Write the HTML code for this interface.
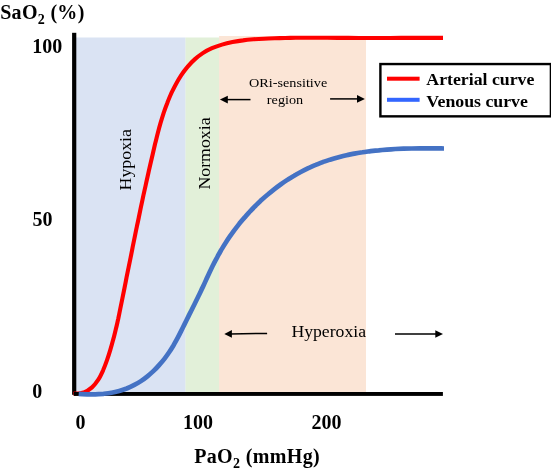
<!DOCTYPE html>
<html><head><meta charset="utf-8">
<style>
html,body{margin:0;padding:0;background:#fff;}
body{width:551px;height:474px;overflow:hidden;font-family:"Liberation Serif",serif;}
svg{display:block;}
text{font-family:"Liberation Serif",serif;fill:#000;}
.b{font-weight:bold;font-size:20px;}
.l{font-weight:bold;font-size:16.1px;}
.r{font-size:16px;}
.s{font-size:13px;}
</style></head><body>
<svg width="551" height="474" viewBox="0 0 551 474" style="will-change:transform">
<rect x="76" y="37.5" width="109.6" height="356" fill="#DAE3F3"/>
<rect x="185.5" y="37.5" width="34" height="356" fill="#E2F0D9"/>
<rect x="219.1" y="36" width="146.9" height="357" fill="#FBE5D6"/>
<rect x="72.1" y="32.8" width="4.2" height="362" fill="#000"/>
<path d="M73.4 393.8 C75.1 393.6 80.8 393.5 83.9 392.4 C87.0 391.4 89.6 389.5 92.0 387.4 C94.4 385.3 96.4 382.6 98.3 379.7 C100.1 376.9 101.6 373.6 103.1 370.3 C104.5 367.0 105.8 363.5 107.0 360.1 C108.2 356.7 109.3 353.3 110.3 349.9 C111.4 346.4 112.3 343.0 113.2 339.6 C114.2 336.2 115.0 332.7 115.8 329.3 C116.7 325.8 117.4 322.4 118.2 319.0 C118.9 315.5 119.6 312.1 120.3 308.6 C121.0 305.2 121.7 301.8 122.4 298.3 C123.1 294.9 123.8 291.5 124.5 288.0 C125.2 284.6 125.9 281.2 126.5 277.7 C127.2 274.3 127.9 270.9 128.6 267.4 C129.3 264.0 130.0 260.6 130.7 257.2 C131.4 253.7 132.1 250.3 132.7 246.9 C133.4 243.4 134.1 240.0 134.8 236.6 C135.5 233.2 136.2 229.7 136.9 226.3 C137.7 222.9 138.4 219.4 139.1 216.0 C139.8 212.6 140.5 209.2 141.2 205.7 C142.0 202.3 142.7 198.9 143.4 195.4 C144.2 192.0 144.9 188.6 145.7 185.1 C146.4 181.7 147.2 178.3 148.0 174.8 C148.7 171.4 149.5 167.9 150.3 164.5 C151.1 161.0 151.9 157.6 152.7 154.2 C153.5 150.7 154.3 147.2 155.1 143.8 C156.0 140.4 156.8 136.9 157.7 133.5 C158.6 130.0 159.5 126.6 160.5 123.2 C161.5 119.8 162.5 116.5 163.6 113.1 C164.7 109.8 165.9 106.5 167.2 103.2 C168.4 99.9 169.8 96.7 171.2 93.5 C172.7 90.4 174.2 87.2 175.9 84.2 C177.6 81.1 179.4 78.1 181.3 75.2 C183.2 72.3 185.3 69.5 187.5 66.9 C189.8 64.2 192.1 61.7 194.7 59.4 C197.2 57.1 199.9 55.0 202.8 53.1 C205.7 51.2 208.8 49.6 212.0 48.2 C215.2 46.8 218.6 45.6 222.0 44.6 C225.5 43.6 229.0 42.8 232.5 42.1 C236.0 41.4 239.5 40.8 243.0 40.4 C246.5 39.9 250.0 39.6 253.5 39.3 C257.0 39.1 260.5 38.9 264.0 38.7 C267.6 38.5 271.1 38.4 274.6 38.3 C278.1 38.2 281.6 38.1 285.1 38.0 C288.6 37.9 292.1 37.9 295.6 37.8 C299.1 37.8 302.6 37.8 306.1 37.8 C309.6 37.7 313.1 37.7 316.6 37.8 C320.1 37.8 323.6 37.8 327.1 37.8 C330.6 37.8 334.1 37.8 337.6 37.9 C341.2 37.9 344.7 37.9 348.2 37.9 C351.7 38.0 355.2 38.0 358.7 38.0 C362.2 38.0 365.7 38.0 369.2 38.0 C372.7 38.0 376.3 38.0 379.8 38.0 C383.3 38.0 386.8 38.0 390.3 38.0 C393.8 38.0 397.3 38.0 400.9 37.9 C404.4 37.9 407.9 37.9 411.4 37.9 C414.9 37.9 418.4 37.9 421.9 37.9 C425.5 37.9 429.0 37.9 432.5 37.9 C436.0 37.9 441.2 37.9 443.0 37.9" fill="none" stroke="#FF0000" stroke-width="4.1" stroke-linecap="butt" stroke-linejoin="round"/>
<rect x="73.8" y="392" width="369.1" height="3.9" fill="#000"/>
<path d="M78.7 393.9 C80.1 394.0 84.3 394.2 87.1 394.3 C89.8 394.3 92.6 394.3 95.3 394.3 C98.1 394.2 100.8 394.0 103.5 393.8 C106.1 393.5 108.8 393.2 111.4 392.7 C114.0 392.3 116.6 391.7 119.2 391.0 C121.7 390.3 124.2 389.4 126.7 388.5 C129.2 387.5 131.6 386.4 133.9 385.2 C136.3 384.0 138.6 382.6 140.9 381.1 C143.1 379.6 145.3 378.0 147.4 376.3 C149.5 374.6 151.6 372.8 153.6 370.9 C155.6 369.0 157.5 367.0 159.3 364.9 C161.1 362.9 162.9 360.8 164.6 358.6 C166.2 356.5 167.8 354.2 169.3 352.0 C170.8 349.8 172.2 347.5 173.6 345.2 C174.9 342.9 176.2 340.6 177.5 338.2 C178.7 335.9 179.9 333.5 181.1 331.1 C182.3 328.7 183.5 326.3 184.7 323.9 C185.9 321.5 187.1 319.0 188.3 316.6 C189.5 314.1 190.8 311.7 192.0 309.2 C193.2 306.7 194.5 304.2 195.7 301.8 C196.9 299.3 198.2 296.8 199.4 294.3 C200.6 291.8 201.7 289.3 202.9 286.9 C204.1 284.4 205.2 281.9 206.3 279.4 C207.5 277.0 208.6 274.5 209.7 272.1 C210.9 269.6 212.0 267.2 213.2 264.8 C214.5 262.4 215.7 260.0 217.0 257.6 C218.2 255.2 219.6 252.8 220.9 250.5 C222.3 248.2 223.7 245.8 225.2 243.5 C226.6 241.3 228.1 239.0 229.7 236.7 C231.2 234.5 232.8 232.3 234.4 230.1 C236.1 227.9 237.7 225.8 239.4 223.6 C241.1 221.5 242.9 219.4 244.7 217.4 C246.4 215.3 248.3 213.3 250.1 211.3 C252.0 209.3 253.9 207.4 255.8 205.5 C257.7 203.5 259.7 201.7 261.7 199.8 C263.7 198.0 265.7 196.2 267.8 194.5 C269.9 192.7 272.0 191.0 274.1 189.3 C276.2 187.7 278.4 186.1 280.6 184.5 C282.8 182.9 285.0 181.4 287.3 179.9 C289.5 178.5 291.8 177.0 294.1 175.7 C296.4 174.3 298.8 173.0 301.2 171.7 C303.5 170.5 305.9 169.3 308.3 168.1 C310.8 167.0 313.2 165.9 315.7 164.9 C318.2 163.8 320.7 162.9 323.2 161.9 C325.7 161.0 328.3 160.2 330.8 159.4 C333.4 158.6 336.0 157.9 338.6 157.2 C341.2 156.5 343.8 155.8 346.5 155.2 C349.1 154.7 351.8 154.1 354.4 153.6 C357.1 153.1 359.8 152.7 362.5 152.3 C365.2 151.8 367.9 151.5 370.6 151.1 C373.3 150.8 376.0 150.5 378.7 150.3 C381.5 150.0 384.2 149.8 386.9 149.6 C389.7 149.4 392.4 149.2 395.2 149.0 C397.9 148.9 400.6 148.8 403.4 148.7 C406.1 148.6 408.8 148.5 411.6 148.5 C414.3 148.4 417.0 148.4 419.8 148.4 C422.5 148.4 425.2 148.4 427.9 148.4 C430.6 148.4 433.3 148.4 436.0 148.4 C438.7 148.4 442.7 148.5 444.0 148.5" fill="none" stroke="#4472C4" stroke-width="4.7" stroke-linecap="butt" stroke-linejoin="round"/>
<!-- legend -->
<rect x="380.4" y="64.05" width="170.5" height="52.3" fill="#fff" stroke="#000" stroke-width="2.4"/>
<rect x="387" y="76.7" width="32.6" height="4" fill="#FF0000"/>
<rect x="387" y="97.8" width="32.6" height="4" fill="#3366FF"/>
<text class="l" transform="translate(426.3 84.9) scale(1.105 1)">Arterial curve</text>
<text class="l" transform="translate(426.3 106.6) scale(1.105 1)">Venous curve</text>
<!-- arrows -->
<g stroke="#000" stroke-width="1.5" fill="#000">
<line x1="226" y1="99.6" x2="250.5" y2="99.6"/><path d="M219.9 99.6 L227.8 95.7 L227.8 103.5 Z" stroke="none"/>
<line x1="330.1" y1="98.9" x2="358" y2="98.9"/><path d="M364.9 98.9 L357 95 L357 102.8 Z" stroke="none"/>
<line x1="230" y1="333.9" x2="267.1" y2="333.4"/><path d="M224.3 333.9 L231.9 330.1 L231.9 337.7 Z" stroke="none"/>
<line x1="395" y1="333.95" x2="437" y2="333.95"/><path d="M443 333.95 L435.3 330.15 L435.3 337.75 Z" stroke="none"/>
</g>
<!-- text -->
<text class="b" x="0.2" y="18.8" letter-spacing="0.3">SaO<tspan font-size="14px" dy="4.7">2</tspan><tspan dy="-4.7"> (%)</tspan></text>
<text class="b" x="32.2" y="53.1">100</text>
<text class="b" x="32.4" y="225.5">50</text>
<text class="b" x="32.2" y="398">0</text>
<text class="b" x="75.6" y="429">0</text>
<text class="b" x="182.9" y="429">100</text>
<text class="b" x="311.5" y="429">200</text>
<text class="b" x="194.2" y="463.4" letter-spacing="0.35">PaO<tspan font-size="14px" dy="4.7">2</tspan><tspan dy="-4.7"> (mmHg)</tspan></text>
<text class="s" transform="translate(288.1 87.4) scale(1.095 1)" text-anchor="middle">ORi-sensitive</text>
<text class="s" transform="translate(285 103.8) scale(1.095 1)" text-anchor="middle">region</text>
<text class="r" transform="translate(291.4 337.3) scale(1.105 1)">Hyperoxia</text>
<text class="r" transform="translate(131.3 190.4) rotate(-90) scale(1.085 1)" style="font-size:16.4px">Hypoxia</text>
<text class="r" transform="translate(210.3 189.6) rotate(-90) scale(1.08 1)" style="font-size:16.5px">Normoxia</text>
</svg>
</body></html>
